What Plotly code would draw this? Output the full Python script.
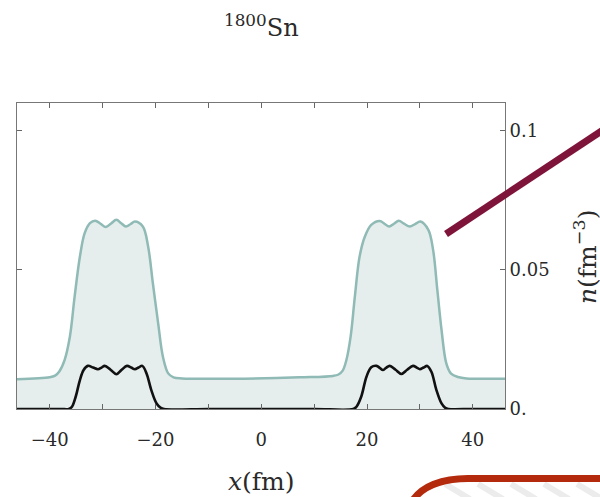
import plotly.graph_objects as go

# ---- data ----
x_total = [-46.2, -40.0, -39.0, -38.2, -37.2, -36.2, -35.3, -34.3, -33.4, -32.4, -31.4, -30.4, -29.4,
           -28.4, -27.4, -26.5, -25.6, -24.7, -23.9, -22.4, -21.4, -20.5, -19.5, -18.6, -17.6, -16.6,
           -15.0, -5.4, 7.3, 13.6, 14.6, 15.4, 16.1, 16.9, 17.7, 18.6, 19.6, 20.8, 22.4, 23.3, 24.2,
           25.1, 26.0, 27.0, 28.1, 29.1, 30.1, 31.6, 32.5, 33.3, 34.1, 35.0, 35.9, 37.2, 38.8, 46.2]
n_total = [0.0107, 0.0114, 0.0120, 0.0135, 0.0176, 0.0260, 0.0404, 0.0548, 0.0632, 0.0668, 0.0677,
           0.0666, 0.0654, 0.0667, 0.0680, 0.0668, 0.0656, 0.0665, 0.0674, 0.0656, 0.0584, 0.0452,
           0.0308, 0.0188, 0.0128, 0.0114, 0.0110, 0.0109, 0.0114, 0.0119, 0.0124, 0.0138, 0.0176,
           0.0260, 0.0404, 0.0548, 0.0620, 0.0662, 0.0676, 0.0666, 0.0656, 0.0666, 0.0677, 0.0666,
           0.0656, 0.0665, 0.0674, 0.0644, 0.0572, 0.0428, 0.0284, 0.0164, 0.0127, 0.0115, 0.0110,
           0.0109]

x_bound = [-46.2, -38.0, -36.4, -35.8, -35.1, -34.3, -33.6, -32.8, -31.8, -30.9, -30.2, -29.6, -28.5,
           -27.4, -26.4, -25.4, -24.6, -23.9, -23.2, -22.5, -21.7, -20.8, -19.8, -19.0, -18.4, -10.0,
           0.0, 10.0, 17.4, 18.0, 18.9, 19.9, 20.8, 21.8, 22.4, 23.0, 23.6, 24.3, 25.4, 26.5, 27.6,
           28.7, 29.4, 30.0, 30.7, 31.4, 32.2, 33.1, 34.1, 34.8, 35.4, 40.0, 46.2]
n_bound = [0.0, 0.0, 0.0, 0.0008, 0.0044, 0.0104, 0.0140, 0.0155, 0.0149, 0.0143, 0.0149, 0.0155,
           0.0141, 0.0125, 0.0141, 0.0155, 0.0149, 0.0143, 0.0149, 0.0155, 0.0128, 0.0068, 0.0020,
           0.0004, 0.0, 0.0, 0.0, 0.0, 0.0, 0.0008, 0.0044, 0.0116, 0.0150, 0.0155, 0.0148, 0.0140,
           0.0148, 0.0155, 0.0141, 0.0126, 0.0141, 0.0155, 0.0149, 0.0143, 0.0149, 0.0155, 0.0133,
           0.0070, 0.0020, 0.0004, 0.0, 0.0, 0.0]

x_ticks = [-40, -20, 0, 20, 40]
x_ticklabels = ["\u221240", "\u221220", "0", "20", "40"]
x_minor_step = 10
y_ticks = [0, 0.05, 0.1]
y_ticklabels = ["0.", "0.05", "0.1"]

W, H = 600, 497
L, R, T, B = 17, 505, 103, 409  # plot area in px


def px(xp):
    return (xp - L) / (R - L)


def py(yp):
    return (B - yp) / (B - T)


fig = go.Figure()
fig.add_trace(go.Scatter(x=x_total, y=n_total, mode="lines",
                         line=dict(color="#8fbab5", width=2.5, shape="spline", smoothing=1.0),
                         fill="tozeroy", fillcolor="#e5eeed", hoverinfo="skip", showlegend=False))
fig.add_trace(go.Scatter(x=x_bound, y=n_bound, mode="lines",
                         line=dict(color="#111111", width=2.6, shape="spline", smoothing=1.0),
                         hoverinfo="skip", showlegend=False))

tickfont = dict(family="DejaVu Serif", size=18, color="#2a2a2a")
fig.update_xaxes(range=[-46.2, 46.1], tickvals=x_ticks, ticktext=x_ticklabels, ticks="inside", ticklen=5,
                 tickwidth=1, tickcolor="#666", showline=True, linecolor="#777", linewidth=1, mirror="ticks",
                 showgrid=False, zeroline=False, tickfont=tickfont, ticklabelstandoff=14,
                 minor=dict(dtick=x_minor_step, tick0=0, ticks="inside", ticklen=5, tickwidth=1, tickcolor="#666",
                            showgrid=False))
fig.update_yaxes(range=[0, 0.11], side="right", tickvals=y_ticks, ticktext=y_ticklabels, ticks="inside", ticklen=5,
                 tickwidth=1, tickcolor="#666", showline=True, linecolor="#777", linewidth=1, mirror="ticks",
                 showgrid=False, zeroline=False, tickfont=tickfont)

annotations = [
    dict(text="<sup>1800</sup>Sn", x=px(261), y=py(26), xref="paper", yref="paper", showarrow=False,
         xanchor="center", yanchor="middle", font=dict(family="DejaVu Serif", size=24, color="#2a2a2a")),
    dict(text="<i>x</i>(fm)", x=px(261), y=py(481), xref="paper", yref="paper", showarrow=False,
         xanchor="center", yanchor="middle", font=dict(family="DejaVu Serif", size=25, color="#2a2a2a")),
    dict(text="<i>n</i>(fm<sup>\u22123</sup>)", x=px(585), y=py(257), xref="paper", yref="paper", showarrow=False,
         textangle=-90, xanchor="center", yanchor="middle",
         font=dict(family="DejaVu Serif", size=25, color="#2a2a2a")),
]

shapes = [
    dict(type="line", xref="paper", yref="paper", x0=px(446), y0=py(234), x1=px(612), y1=py(124),
         line=dict(color="#7e1439", width=7)),
]
for sx in [470, 503, 536, 569, 602]:
    shapes.append(dict(type="line", xref="paper", yref="paper", x0=px(sx - 25), y0=py(484), x1=px(sx), y1=py(499),
                       line=dict(color="#ececec", width=6), layer="below"))
shapes.append(dict(type="path", xref="paper", yref="paper",
                   path=f"M {px(413)},{py(500)} Q {px(428)},{py(479)} {px(468)},{py(478.5)} L {px(610)},{py(478.5)}",
                   line=dict(color="#b32a0c", width=7)))

fig.update_layout(width=W, height=H, margin=dict(l=L, r=W - R, t=T, b=H - B), paper_bgcolor="white",
                  plot_bgcolor="white", annotations=annotations, shapes=shapes, showlegend=False)

fig.write_html("out.html")
